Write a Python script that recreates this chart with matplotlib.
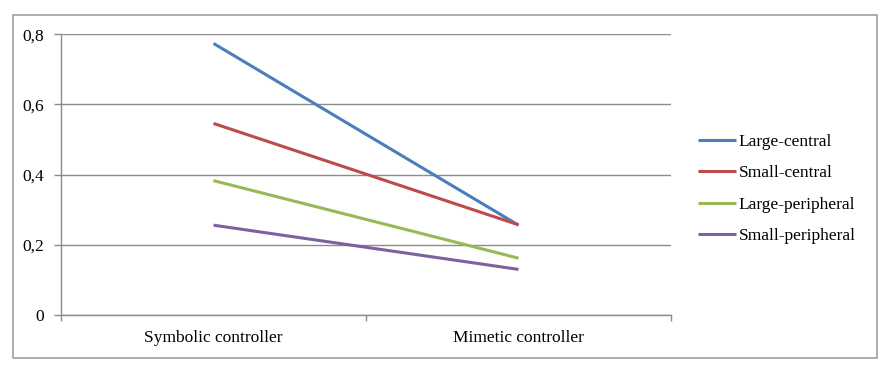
import matplotlib.pyplot as plt
from matplotlib.patches import Rectangle
from matplotlib.ticker import FuncFormatter

categories = ["Symbolic controller", "Mimetic controller"]
series_names = ["Large-central", "Small-central", "Large-peripheral", "Small-peripheral"]
large_central = [0.774, 0.256]
small_central = [0.546, 0.257]
large_peripheral = [0.383, 0.162]
small_peripheral = [0.256, 0.130]
colors = ["#4a7ebb", "#be4b48", "#98b954", "#7d60a0"]

plt.rcParams['font.family'] = ['Liberation Serif', 'DejaVu Serif']

fig = plt.figure(figsize=(8.92, 3.73), dpi=100)
W, H = 892, 373

# outer chart border
fig.patches.append(Rectangle((12.5 / W, 1 - 358 / H), (877 - 12.5) / W, (358 - 15) / H,
                             transform=fig.transFigure, fill=False,
                             edgecolor="#a0a0a0", linewidth=1.2))

ax = fig.add_axes([61 / W, 1 - 315 / H, (671 - 61) / W, (315 - 34.3) / H])

x = list(range(len(categories)))
for vals, name, c in zip([large_central, small_central, large_peripheral, small_peripheral],
                         series_names, colors):
    ax.plot(x, vals, color=c, linewidth=2.2, label=name, solid_capstyle='butt')

ax.set_xlim(-0.5, len(categories) - 0.5)
ax.set_ylim(0, 0.8)
ax.set_yticks([0, 0.2, 0.4, 0.6, 0.8])
ax.yaxis.set_major_formatter(FuncFormatter(lambda v, p: "0" if v == 0 else ("%.1f" % v).replace(".", ",")))
ax.yaxis.grid(True, color="#8c8c8c", linewidth=1)
ax.set_axisbelow(True)

ax.set_xticks(x)
ax.set_xticklabels(categories)
ax.set_xticks([-0.5, 0.5, 1.5], minor=True)
ax.tick_params(axis='x', which='major', length=0, pad=11, labelsize=12.5)
ax.tick_params(axis='x', which='minor', length=4, color="#8c8c8c", width=1)
ax.tick_params(axis='y', length=5, color="#8c8c8c", width=1, labelsize=12.5, pad=7)

for s in ['top', 'right']:
    ax.spines[s].set_visible(False)
for s in ['left', 'bottom']:
    ax.spines[s].set_color("#8c8c8c")
    ax.spines[s].set_linewidth(1)

ax.legend(loc='center left', bbox_to_anchor=(682 / W, 1 - 189 / H), bbox_transform=fig.transFigure,
          frameon=False, fontsize=12.5, handlelength=2.2, handletextpad=0.15, labelspacing=0.87)

fig.savefig("out.png", dpi=100)
